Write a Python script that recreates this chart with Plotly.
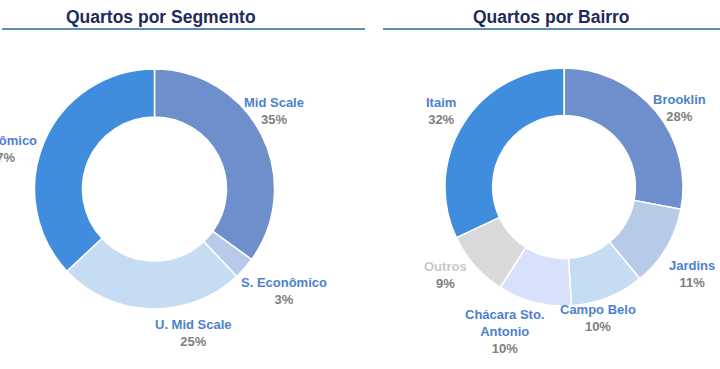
import plotly.graph_objects as go

# ---- data ----
seg_labels = ["Mid Scale", "S. Econômico", "U. Mid Scale", "Econômico"]
seg_values = [35, 3, 25, 37]

bairro_labels = ["Brooklin", "Jardins", "Campo Belo", "Chácara Sto.<br>Antonio", "Outros", "Itaim"]
bairro_values = [28, 11, 10, 10, 9, 32]

# ---- styles ----
W, H = 720, 369
seg_colors = ["#6f8fcc", "#b7cbe9", "#c6dcf3", "#3f8ddc"]
bairro_colors = ["#6f8fcc", "#b7cbe9", "#c6dcf3", "#d7e1fa", "#d9d9d9", "#3f8ddc"]
name_color = "#4d7fcf"
pct_color = "#7f7f7f"
name_colors_bairro = [name_color, name_color, name_color, name_color, "#c8c8c8", name_color]
title_color = "#1f2b5b"
line_color = "#5a8db9"
FONT = "Liberation Sans, Arial, sans-serif"

# pie geometry in pixels (center x, center y, radius)
left_geo = (154.5, 189, 120)
right_geo = (564, 187, 119)

# label offsets (pixels from the donut center) for each slice
seg_label_off = [(119, -78), (129, 102), (39, 144), (-153, -40)]
bairro_label_off = [(115, -79), (128, 87), (34, 131), (-59, 144), (-119, 88), (-123, -76)]


def domain(geo):
    cx, cy, r = geo
    return dict(x=[(cx - r) / W, (cx + r) / W],
                y=[1 - (cy + r) / H, 1 - (cy - r) / H])


fig = go.Figure()
fig.add_trace(go.Pie(
    labels=seg_labels, values=seg_values, hole=0.6, sort=False,
    direction="clockwise", rotation=0, domain=domain(left_geo),
    marker=dict(colors=seg_colors, line=dict(color="white", width=1.5)),
    textinfo="none", hoverinfo="label+percent", showlegend=False))
fig.add_trace(go.Pie(
    labels=bairro_labels, values=bairro_values, hole=0.6, sort=False,
    direction="clockwise", rotation=0, domain=domain(right_geo),
    marker=dict(colors=bairro_colors, line=dict(color="white", width=1.5)),
    textinfo="none", hoverinfo="label+percent", showlegend=False))

annotations = []


def add_labels(geo, labels, values, offs, ncolors):
    cx, cy, _ = geo
    total = sum(values)
    for lab, v, (dx, dy), nc in zip(labels, values, offs, ncolors):
        pct = round(100 * v / total)
        annotations.append(dict(
            x=(cx + dx) / W, y=1 - (cy + dy) / H, xref="paper", yref="paper",
            xanchor="center", yanchor="middle", showarrow=False, align="center",
            text=f"<b><span style='color:{nc}'>{lab}</span><br>"
                 f"<span style='color:{pct_color}'>{pct}%</span></b>",
            font=dict(family=FONT, size=13)))


add_labels(left_geo, seg_labels, seg_values, seg_label_off, [name_color] * 4)
add_labels(right_geo, bairro_labels, bairro_values, bairro_label_off, name_colors_bairro)

# titles
for txt, xc in [("Quartos por Segmento", 160.5), ("Quartos por Bairro", 551)]:
    annotations.append(dict(
        x=xc / W, y=1 - 17 / H, xref="paper", yref="paper", showarrow=False,
        xanchor="center", yanchor="middle", text=f"<b>{txt}</b>",
        font=dict(family=FONT, size=17.5, color=title_color)))

shapes = [
    dict(type="line", xref="paper", yref="paper", x0=2 / W, x1=365 / W,
         y0=1 - 29 / H, y1=1 - 29 / H, line=dict(color=line_color, width=2)),
    dict(type="line", xref="paper", yref="paper", x0=383 / W, x1=720 / W,
         y0=1 - 29 / H, y1=1 - 29 / H, line=dict(color=line_color, width=2)),
]

fig.update_layout(
    width=W, height=H, margin=dict(l=0, r=0, t=0, b=0),
    paper_bgcolor="white", plot_bgcolor="white",
    annotations=annotations, shapes=shapes, showlegend=False,
    font=dict(family=FONT))

fig.write_html("out.html", config={"displayModeBar": False},
               post_script="document.body.style.margin='0';document.body.style.overflow='hidden';")
